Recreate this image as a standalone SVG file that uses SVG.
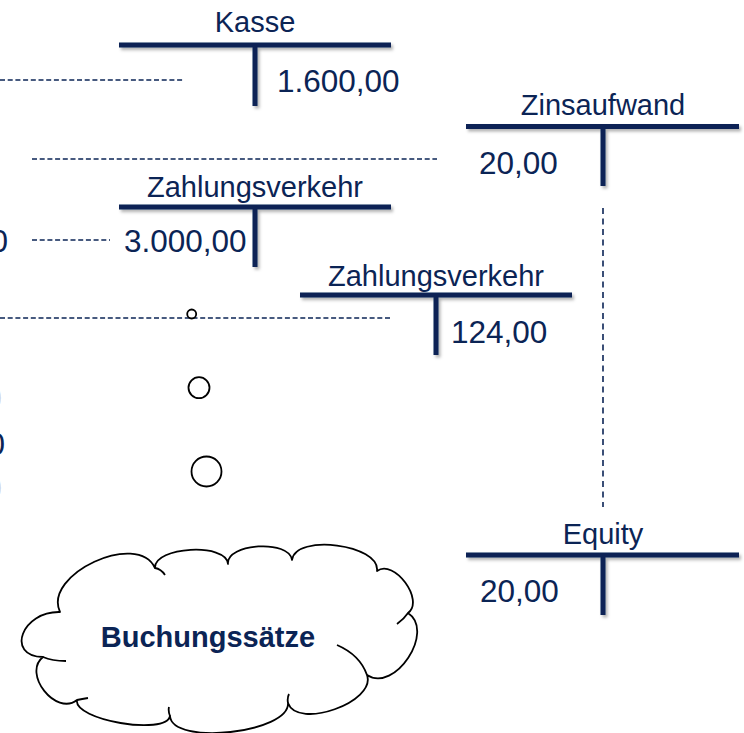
<svg xmlns="http://www.w3.org/2000/svg" width="744" height="733" viewBox="0 0 744 733">
  <defs>
    <filter id="shadow" filterUnits="userSpaceOnUse" x="0" y="0" width="744" height="733">
      <feDropShadow dx="2" dy="2.5" stdDeviation="1.5" flood-color="#000" flood-opacity="0.3"/>
    </filter>
  </defs>
  <style>
    .t { font-family: "Liberation Sans", Arial, sans-serif; fill: #0b2455; }
    .title { font-size: 29px; text-anchor: middle; }
    .amt { font-size: 31.5px; }
    .bar { stroke: #0b2455; stroke-width: 5; fill: none; }
    .dash { stroke: #0b2455; stroke-width: 1.3; stroke-dasharray: 5 2.7; fill: none; }
    .vdash { stroke: #0b2455; stroke-width: 1.6; stroke-dasharray: 6 4.5; fill: none; }
    .ring { stroke: #000; stroke-width: 1.8; fill: #fff; }
  </style>
  <rect width="744" height="733" fill="#fff"/>

  <!-- amounts cut off at the left margin -->
  <g id="left-margin">
    <text class="t amt" x="8" y="252" text-anchor="end">0</text>
    <text class="t amt" x="2" y="409" text-anchor="end" fill-opacity="0.2">0</text>
    <text class="t amt" x="5" y="455" text-anchor="end">0</text>
    <text class="t amt" x="2" y="499" text-anchor="end" fill-opacity="0.2">0</text>
  </g>

  <!-- dashed connectors -->
  <g id="connectors">
    <line class="dash" x1="0" y1="80" x2="184" y2="80"/>
    <line class="dash" x1="32" y1="159" x2="437" y2="159"/>
    <line class="dash" x1="32" y1="240" x2="110" y2="240"/>
    <line class="dash" x1="0" y1="318" x2="391" y2="318"/>
    <line class="vdash" x1="603" y1="208" x2="603" y2="507"/>
  </g>

  <!-- T-account: Kasse -->
  <g id="kasse">
    <text class="t title" x="255" y="32">Kasse</text>
    <g filter="url(#shadow)">
      <line class="bar" x1="119" y1="45" x2="391" y2="45"/>
      <line class="bar" x1="255" y1="45" x2="255" y2="106"/>
    </g>
    <text class="t amt" x="277" y="92">1.600,00</text>
  </g>

  <!-- T-account: Zinsaufwand -->
  <g id="zinsaufwand">
    <text class="t title" x="603" y="115">Zinsaufwand</text>
    <g filter="url(#shadow)">
      <line class="bar" x1="466" y1="126.5" x2="739" y2="126.5"/>
      <line class="bar" x1="603" y1="126.5" x2="603" y2="186"/>
    </g>
    <text class="t amt" x="479" y="174">20,00</text>
  </g>

  <!-- T-account: Zahlungsverkehr (1) -->
  <g id="zahlungsverkehr-1">
    <text class="t title" x="255" y="197">Zahlungsverkehr</text>
    <g filter="url(#shadow)">
      <line class="bar" x1="119" y1="207" x2="391" y2="207"/>
      <line class="bar" x1="255" y1="207" x2="255" y2="267"/>
    </g>
    <text class="t amt" x="124" y="252">3.000,00</text>
  </g>

  <!-- T-account: Zahlungsverkehr (2) -->
  <g id="zahlungsverkehr-2">
    <text class="t title" x="436" y="286">Zahlungsverkehr</text>
    <g filter="url(#shadow)">
      <line class="bar" x1="300" y1="295" x2="572" y2="295"/>
      <line class="bar" x1="436" y1="295" x2="436" y2="355"/>
    </g>
    <text class="t amt" x="451" y="342.5">124,00</text>
  </g>

  <!-- T-account: Equity -->
  <g id="equity">
    <text class="t title" x="603" y="543.5">Equity</text>
    <g filter="url(#shadow)">
      <line class="bar" x1="466" y1="555" x2="739" y2="555"/>
      <line class="bar" x1="603" y1="555" x2="603" y2="615"/>
    </g>
    <text class="t amt" x="480" y="601.5">20,00</text>
  </g>

  <!-- thought bubbles -->
  <g id="bubbles">
    <circle class="ring" cx="191.7" cy="314" r="4.5"/>
    <circle class="ring" cx="199" cy="387.7" r="10.5"/>
    <circle class="ring" cx="206.5" cy="471.5" r="15"/>
  </g>

  <!-- cloud: Buchungssätze -->
  <g id="cloud">
    <path fill="#fff" stroke="#000" stroke-width="1.8" stroke-linejoin="round"
      d="M60,612 C22,611 5,656 43,657 C22,673.5 56,716.5 77,700 C73,720 166,736 170,716 C172,746 290,733 288,703 C297.6,730 376.6,702 367,675 C394.7,693.3 435.7,631.3 408,613 C425,600.4 394,558.4 377,571 C380.4,544.4 295.4,533.4 292,560 C289.8,539.3 225.8,543.3 228,564 C226.8,542.5 153.8,546.5 155,568 C137.5,530.3 42.5,574.3 60,612 Z"/>
    <path fill="none" stroke="#000" stroke-width="1.8"
      d="M155,568 Q161,569 165,575 M408,613 Q404,619 397,624 M367,675 Q360,655 337,645 M77,700 Q82,699 88,698 M43,657 Q52,661 66,661 M288,703 Q287,698 289,694 M170,716 Q168,711 169,707"/>
    <text class="t" x="208" y="646.5" font-size="29" font-weight="bold" text-anchor="middle">Buchungssätze</text>
  </g>
</svg>
